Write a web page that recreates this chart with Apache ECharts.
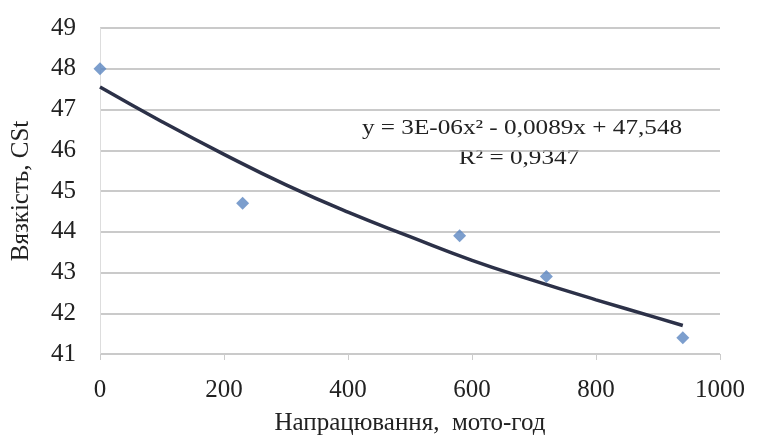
<!DOCTYPE html>
<html><head><meta charset="utf-8">
<script src="https://cdn.jsdelivr.net/npm/echarts@6/dist/echarts.min.js"></script>
<style>html,body{margin:0;padding:0;background:#fff}#c{width:758px;height:443px}</style>
</head><body><div id="c"></div>
<script>
var hours = [0, 230, 580, 720, 940];
var viscosity = [48.0, 44.7, 43.9, 42.9, 41.4];
var trendX = [0, 100, 200, 300, 400, 500, 600, 700, 800, 900, 940];
var trendY = [47.55, 46.7, 45.9, 45.15, 44.48, 43.88, 43.3, 42.8, 42.33, 41.88, 41.7];
var xTicks = [0, 200, 400, 600, 800, 1000];
var yTicks = [41, 42, 43, 44, 45, 46, 47, 48, 49];
var eqLine1 = 'y = 3E-06x² - 0,0089x + 47,548';
var eqLine2 = 'R² = 0,9347';
var xTitle = 'Напрацювання,  мото-год';
var yTitle = 'Вязкість, CSt';

var font = 'Liberation Serif';
var chart = echarts.init(document.getElementById('c'), null, {renderer: 'canvas'});
chart.setOption({
  animation: false,
  backgroundColor: '#fff',
  grid: {left: 100, right: 38, top: 28, bottom: 89},
  xAxis: {
    type: 'value', min: xTicks[0], max: xTicks[xTicks.length - 1], interval: 200,
    name: xTitle, nameLocation: 'middle', nameGap: 57,
    nameTextStyle: {fontFamily: font, fontSize: 25, color: '#222'},
    axisLine: {show: false},
    axisTick: {show: true, length: 6, lineStyle: {color: '#ccc'}},
    axisLabel: {fontFamily: font, fontSize: 25, color: '#222', margin: 24,
      formatter: function (v) { return String(v); }},
    splitLine: {show: false}
  },
  yAxis: {
    type: 'value', min: yTicks[0], max: yTicks[yTicks.length - 1], interval: 1,
    name: yTitle, nameLocation: 'middle', nameGap: 66,
    nameTextStyle: {fontFamily: font, fontSize: 25, color: '#222'},
    axisLine: {show: true, lineStyle: {color: '#ddd', width: 1}},
    axisTick: {show: false},
    axisLabel: {fontFamily: font, fontSize: 25, color: '#222', margin: 24},
    splitLine: {show: true, lineStyle: {color: '#b8b8b8', width: 1.5}}
  },
  series: [
    {
      type: 'line', data: trendX.map(function (x, i) { return [x, trendY[i]]; }),
      smooth: true, showSymbol: false, symbol: 'none',
      lineStyle: {color: '#2c3148', width: 3.5}, z: 3
    },
    {
      type: 'scatter', data: hours.map(function (x, i) { return [x, viscosity[i]]; }),
      symbol: 'diamond', symbolSize: 13,
      itemStyle: {color: '#5b86c0'}, z: 4
    }
  ],
  graphic: [
    {type: 'text', x: 522, y: 128, scaleX: 1.2, style: {text: eqLine1, font: '21px "Liberation Serif"', fill: '#222', align: 'center', verticalAlign: 'middle'}},
    {type: 'text', x: 519, y: 158, scaleX: 1.2, style: {text: eqLine2, font: '21px "Liberation Serif"', fill: '#222', align: 'center', verticalAlign: 'middle'}}
  ]
});
</script></body></html>
